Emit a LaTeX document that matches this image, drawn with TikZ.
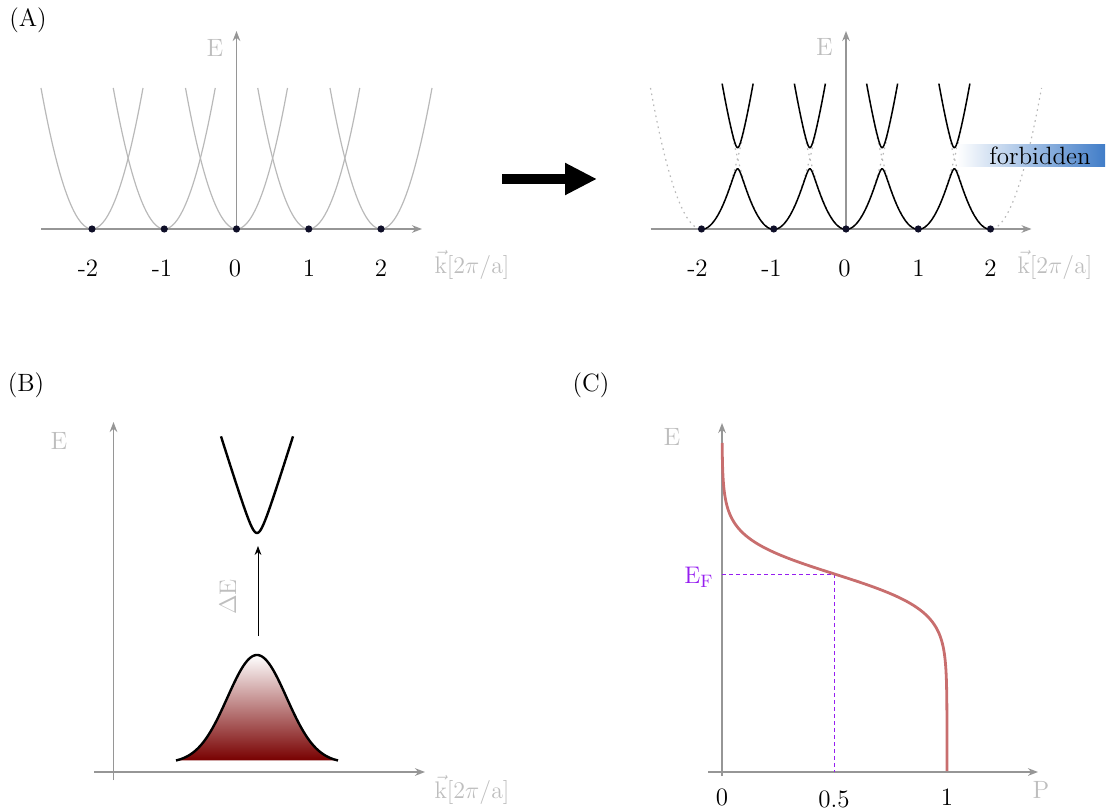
\documentclass[tikz,border=0pt]{standalone}
\usetikzlibrary{arrows.meta}
\definecolor{axgray}{RGB}{150,150,150}
\definecolor{lblgray}{RGB}{190,190,190}
\definecolor{pgray}{RGB}{185,185,185}
\definecolor{dotc}{RGB}{15,15,40}
\definecolor{fermi}{RGB}{200,110,110}
\definecolor{efpurple}{RGB}{150,30,240}
\definecolor{forbblue}{RGB}{65,125,200}
\definecolor{bandred}{RGB}{120,0,0}
\begin{document}
\begin{tikzpicture}[x=0.5pt,y=-0.5pt,
  font=\fontsize{12.5}{15}\selectfont,
  declare function={
    pq(\x,\y)=(\x-\y)*(\x-\y)/2601;
    lo(\x,\y,\z)=141*((pq(\x,\y)+pq(\x,\z))/2-sqrt(0.25*(pq(\x,\y)-pq(\x,\z))*(pq(\x,\y)-pq(\x,\z))+0.0056));
    hi(\x,\y,\z)=141*((pq(\x,\y)+pq(\x,\z))/2+sqrt(0.25*(pq(\x,\y)-pq(\x,\z))*(pq(\x,\y)-pq(\x,\z))+0.0056));
  },
  axis/.style={draw=axgray,line width=0.75pt,-{Stealth[length=5pt,width=3.8pt]}},
  lbl/.style={text=lblgray,inner sep=0pt},
  tick/.style={text=black,inner sep=0pt},
  freepar/.style={draw=pgray,line width=0.6pt},
  dottedpar/.style={draw=pgray,line width=0.6pt,dash pattern=on 0.8pt off 2pt},
  band/.style={draw=black,line width=0.75pt},
  kdot/.style={fill=dotc},
  thickband/.style={draw=black,line width=1.2pt},
  efline/.style={draw=efpurple,line width=0.5pt,dash pattern=on 2pt off 1.5pt}
]
\useasboundingbox (0,0) rectangle (1107,812);

% ---------------- panel labels
\node[inner sep=0pt] (labA) at (28,20) {(A)};
\node[inner sep=0pt] (labB) at (26,385) {(B)};
\node[inner sep=0pt] (labC) at (591,385) {(C)};

% ---------------- Panel A left
\coordinate (ALx0) at (41,229);
\coordinate (ALx1) at (422,229);
\coordinate (ALy0) at (236.5,229);
\coordinate (ALy1) at (236.5,31);
\foreach \c in {92,164.25,236.5,308.75,381}{
  \draw[freepar] plot[domain=\c-51:\c+51,samples=60] (\x,{229-141*pq(\x,\c)});
}
\draw[axis] (ALx0) -- (ALx1);
\draw[axis] (ALy0) -- (ALy1);
\node[lbl] (ALE) at (215,48) {E};
\node[lbl] (ALk) at (472,265) {$\vec{\mathrm{k}}[2\pi/\mathrm{a}]$};
\foreach \c/\n in {92/m2,164.25/m1,236.5/z,308.75/p1,381/p2}{
  \fill[kdot] (\c,229) circle (1.8pt);
}
\node[tick] (ALt1) at (88,268) {-2};
\node[tick] (ALt2) at (162,268) {-1};
\node[tick] (ALt3) at (235,268) {0};
\node[tick] (ALt4) at (309,268) {1};
\node[tick] (ALt5) at (381,268) {2};

% ---------------- big arrow
\coordinate (BA0) at (502,179);
\coordinate (BA1) at (597,179);
\draw[line width=5pt,-{Triangle[length=16pt,width=15pt]}] (BA0) -- (BA1);

% ---------------- Panel A right
\coordinate (ARx0) at (650.5,229);
\coordinate (ARx1) at (1031.5,229);
\coordinate (ARy0) at (846,229);
\coordinate (ARy1) at (846,31);
\foreach \c in {701.5,773.75,846,918.25,990.5}{
  \draw[dottedpar] plot[domain=\c-51:\c+51,samples=60] (\x,{229-141*pq(\x,\c)});
}
% forbidden band marker
\shade[left color=white,right color=forbblue] (957,145) rectangle (1105,167);
\node[inner sep=0pt,text=black] (forb) at (1040,156) {forbidden};
\draw[axis] (ARx0) -- (ARx1);
\draw[axis] (ARy0) -- (ARy1);
\foreach \a/\b in {701.5/773.75,773.75/846,846/918.25,918.25/990.5}{
  \draw[band] plot[domain=\a:\b,samples=70] (\x,{229-lo(\x,\a,\b)});
  \draw[band] plot[domain=(\a+\b)/2-15.5:(\a+\b)/2+15.5,samples=40] (\x,{229-hi(\x,\a,\b)});
}
\foreach \c in {701.5,773.75,846,918.25,990.5}{
  \fill[kdot] (\c,229) circle (1.8pt);
}
\node[lbl] (ARE) at (824.5,47) {E};
\node[lbl] (ARk) at (1055,265) {$\vec{\mathrm{k}}[2\pi/\mathrm{a}]$};
\node[tick] (ARt1) at (697.5,268) {-2};
\node[tick] (ARt2) at (771.5,268) {-1};
\node[tick] (ARt3) at (844.5,268) {0};
\node[tick] (ARt4) at (918.5,268) {1};
\node[tick] (ARt5) at (990.5,268) {2};

% ---------------- Panel B
\coordinate (Bx0) at (94,772);
\coordinate (Bx1) at (425,772);
\coordinate (By0) at (113.5,780);
\coordinate (By1) at (113.5,422);
\draw[axis] (Bx0) -- (Bx1);
\draw[axis] (By0) -- (By1);
\node[lbl] (BE) at (59,441) {E};
\node[lbl] (Bk) at (472,790) {$\vec{\mathrm{k}}[2\pi/\mathrm{a}]$};
\shade[top color=white,bottom color=bandred]
  plot[domain=176:338,samples=90] (\x,{763-108*exp(-(\x-257)*(\x-257)/1750)}) -- cycle;
\draw[thickband] plot[domain=176:338,samples=90] (\x,{763-108*exp(-(\x-257)*(\x-257)/1750)});
\draw[thickband] plot[domain=221:293,samples=90] (\x,{533-(3.2*sqrt(40.2+(\x-257)*(\x-257))-20.3)});
\coordinate (dE0) at (258,636);
\coordinate (dE1) at (258,546);
\draw[line width=0.5pt,-{Stealth[length=4.5pt,width=3.4pt]}] (dE0) -- (dE1);
\node[lbl,rotate=90] (dEl) at (228,597) {$\Delta\mathrm{E}$};

% ---------------- Panel C
\coordinate (Cx0) at (708,772);
\coordinate (Cx1) at (1038,772);
\coordinate (Cy0) at (722,776);
\coordinate (Cy1) at (722,423);
\draw[axis] (Cx0) -- (Cx1);
\draw[axis] (Cy0) -- (Cy1);
\node[lbl] (CE) at (672,437) {E};
\node[lbl] (CP) at (1041,790) {P};
\node[tick] (Ct0) at (722,797) {0};
\node[tick] (Ct5) at (834,799) {0.5};
\node[tick] (Ct1) at (947,797) {1};
\node[inner sep=0pt,text=efpurple] (EF) at (699,577) {$\mathrm{E}_\mathrm{F}$};
\coordinate (EFa) at (722,574);
\coordinate (EFb) at (834,574);
\coordinate (EFc) at (834,772);
\draw[efline] (EFa) -- (EFb) -- (EFc);
\draw[fermi,line width=1.4pt] plot[domain=443:771,samples=220] ({722+225/(exp((574-\x)/18)+1)},\x);
\end{tikzpicture}
\end{document}
